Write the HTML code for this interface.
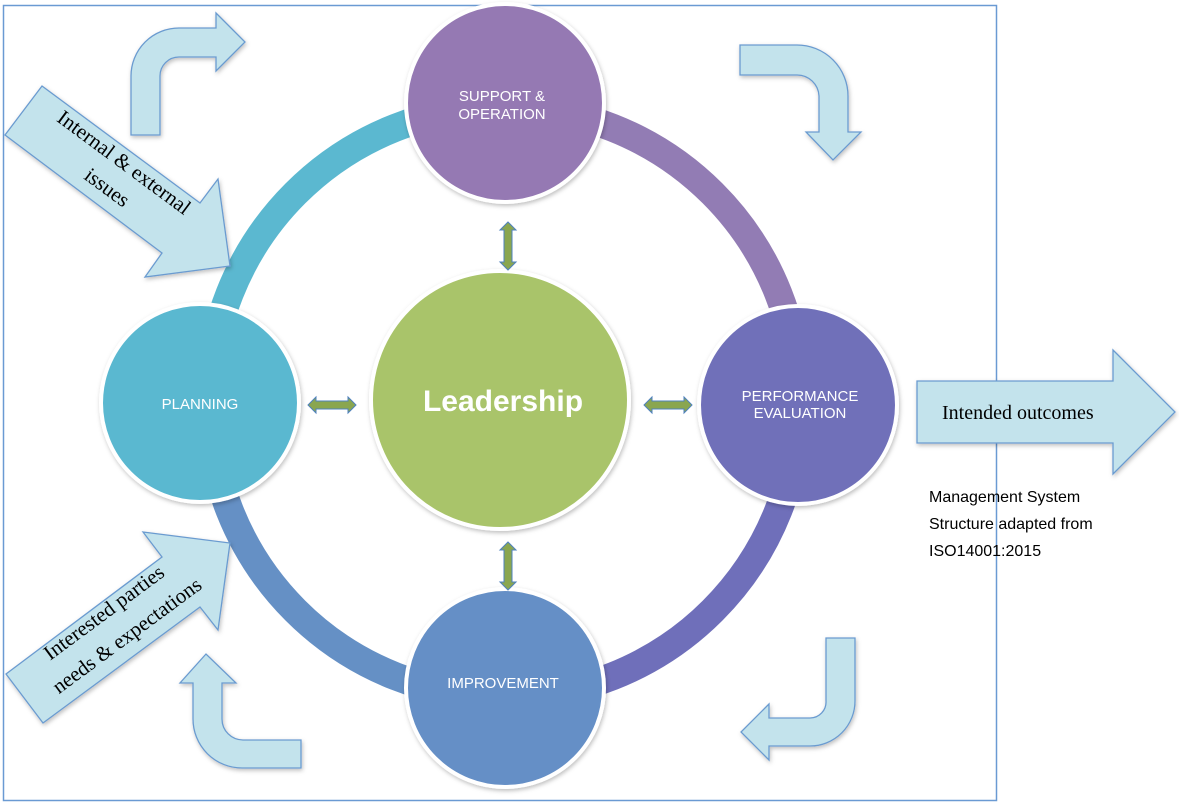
<!DOCTYPE html>
<html><head><meta charset="utf-8"><style>
html,body{margin:0;padding:0;background:#fff;}
svg{display:block;}
.ct{font-family:"Liberation Sans",sans-serif;fill:#fff;font-size:15px;text-anchor:middle;}
.sf{font-family:"Liberation Serif",serif;fill:#000;}
</style></head><body>
<svg width="1179" height="804" viewBox="0 0 1179 804" xmlns="http://www.w3.org/2000/svg">
<defs>
<filter id="sh" x="-20%" y="-20%" width="140%" height="140%"><feDropShadow dx="1" dy="2" stdDeviation="2" flood-color="#000" flood-opacity="0.25"/></filter>
<g id="dv"><path d="M0,-24 L8,-16 L4,-16 L4,16 L8,16 L0,24 L-8,16 L-4,16 L-4,-16 L-8,-16 Z" fill="#8aa64f" stroke="#4f81bd" stroke-width="1"/></g>
</defs>
<rect x="3.5" y="5.5" width="993" height="795" fill="none" stroke="#6a9ad3" stroke-width="1.5"/>

<!-- ring -->
<g fill="none" stroke-width="28">
<path d="M209,402 A295,295 0 0 1 504,107" stroke="#5bb8d0"/>
<path d="M504,107 A295,295 0 0 1 799,402" stroke="#927cb4"/>
<path d="M799,402 A295,295 0 0 1 504,697" stroke="#6f6fba"/>
<path d="M504,697 A295,295 0 0 1 209,402" stroke="#6590c5"/>
</g>

<!-- bent arrows -->
<g fill="#c3e3ec" stroke="#6b9bd0" stroke-width="1.3" filter="url(#sh)">
<path d="M131,135 V76 A48,48 0 0 1 179,28 H216 V13 L245,42 L216,71 V57 H179 A19,19 0 0 0 160,76 V135 Z"/>
<path d="M740,45 H797 A51,51 0 0 1 848,96 V132 H861 L833,160 L806,132 H819 V96 A22,22 0 0 0 797,75 H740 Z"/>
<path d="M855,638 V701 A45,45 0 0 1 810,746 H769 V760 L741,732 L769,704 V718 H810 A16,16 0 0 0 826,701 V638 Z"/>
<path d="M301,740 H243 A21,21 0 0 1 222,719 V683 H236 L206,654 L180,683 H193 V719 A49,49 0 0 0 242,768 H301 Z"/>
<polygon points="42,86 200,203 218,179 230,266 145,277 162,253 5,135"/>
<polygon points="143,532 230,543 218,630 200,607 43,723 6,674 162,557"/>
<polygon points="917,381 1113,381 1113,350 1175,412 1113,474 1113,443 917,443"/>
</g>

<text class="sf" font-size="21" transform="translate(120,168) rotate(36.5)" text-anchor="middle">Internal &amp; external</text>
<text class="sf" font-size="21" transform="translate(103,193) rotate(36.5)" text-anchor="middle">issues</text>
<text class="sf" font-size="21" transform="translate(108,618) rotate(-36.5)" text-anchor="middle">Interested parties</text>
<text class="sf" font-size="21" transform="translate(131,641) rotate(-36.5)" text-anchor="middle">needs &amp; expectations</text>
<text class="sf" font-size="20" x="942" y="419">Intended outcomes</text>

<g font-family="Liberation Sans,sans-serif" font-size="16" fill="#000">
<text x="929" y="502">Management System</text>
<text x="929" y="529">Structure adapted from</text>
<text x="929" y="556">ISO14001:2015</text>
</g>

<!-- circles -->
<g stroke="#fff" stroke-width="4" filter="url(#sh)">
<circle cx="505" cy="103" r="99" fill="#9579b3"/>
<circle cx="200" cy="403" r="99" fill="#5ab8d0"/>
<circle cx="798" cy="405" r="99" fill="#7070b9"/>
<circle cx="505" cy="688" r="99" fill="#658fc6"/>
<circle cx="500" cy="400" r="129" fill="#a9c46a"/>
</g>

<text class="ct" x="502" y="101">SUPPORT &amp;</text>
<text class="ct" x="502" y="119">OPERATION</text>
<text class="ct" x="200" y="409">PLANNING</text>
<text class="ct" x="800" y="401">PERFORMANCE</text>
<text class="ct" x="800" y="418">EVALUATION</text>
<text class="ct" x="503" y="688">IMPROVEMENT</text>
<text x="503" y="411" font-family="Liberation Sans,sans-serif" font-weight="bold" font-size="30" fill="#fff" text-anchor="middle">Leadership</text>

<use href="#dv" x="508" y="246"/>
<use href="#dv" x="508" y="566"/>
<use href="#dv" transform="translate(332,405) rotate(90)"/>
<use href="#dv" transform="translate(668,405) rotate(90)"/>
</svg>
</body></html>
